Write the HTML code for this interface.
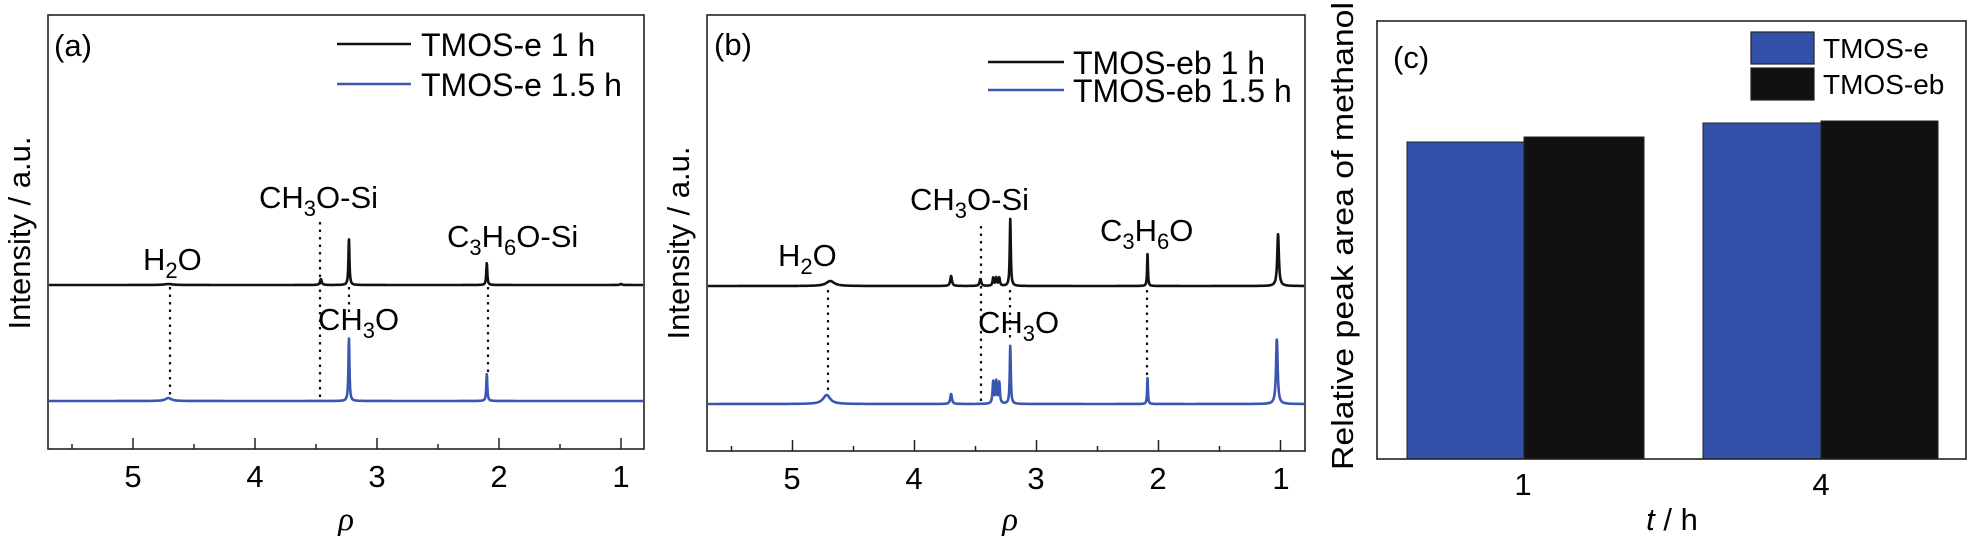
<!DOCTYPE html>
<html><head><meta charset="utf-8"><style>
html,body{margin:0;padding:0;background:#fff;}
svg{display:block;font-family:"Liberation Sans",sans-serif;}
</style></head><body>
<svg id="s" width="1971" height="536" viewBox="0 0 1971 536" xmlns="http://www.w3.org/2000/svg">
<rect width="1971" height="536" fill="#fff"/>
<g id="dyn"></g>
<!-- Panel a -->
<rect x="48" y="15" width="596" height="434" fill="none" stroke="#222" stroke-width="1.6"/>
<text x="54" y="56" font-size="31">(a)</text>
<line x1="337" y1="44" x2="411" y2="44" stroke="#111" stroke-width="2.5"/>
<text x="421" y="56" font-size="32">TMOS-e 1 h</text>
<line x1="337" y1="84" x2="411" y2="84" stroke="#3a56b0" stroke-width="2.5"/>
<text x="421" y="96" font-size="32">TMOS-e 1.5 h</text>
<text transform="translate(30,233) rotate(-90)" text-anchor="middle" font-size="31">Intensity / a.u.</text>
<text x="143" y="270" font-size="31">H<tspan font-size="22" dy="8">2</tspan><tspan dy="-8">O</tspan></text>
<text x="259" y="208" font-size="31">CH<tspan font-size="22" dy="8">3</tspan><tspan dy="-8">O-Si</tspan></text>
<text x="447" y="247" font-size="31">C<tspan font-size="22" dy="8">3</tspan><tspan dy="-8">H</tspan><tspan font-size="22" dy="8">6</tspan><tspan dy="-8">O-Si</tspan></text>
<text x="318" y="330" font-size="31">CH<tspan font-size="22" dy="8">3</tspan><tspan dy="-8">O</tspan></text>
<g font-size="31" text-anchor="middle">
<text x="133" y="487">5</text><text x="255" y="487">4</text><text x="377" y="487">3</text><text x="499" y="487">2</text><text x="621" y="487">1</text>
</g>
<text x="346" y="530" font-size="33" font-style="italic" font-family="Liberation Serif,serif" text-anchor="middle">ρ</text>
<!-- Panel b -->
<rect x="707" y="15" width="598" height="436" fill="none" stroke="#222" stroke-width="1.6"/>
<text x="714" y="55" font-size="31">(b)</text>
<line x1="988" y1="62" x2="1064" y2="62" stroke="#111" stroke-width="2.5"/>
<text x="1073" y="74" font-size="32">TMOS-eb 1 h</text>
<line x1="988" y1="90" x2="1064" y2="90" stroke="#3a56b0" stroke-width="2.5"/>
<text x="1073" y="102" font-size="32">TMOS-eb 1.5 h</text>
<text transform="translate(689,243) rotate(-90)" text-anchor="middle" font-size="31">Intensity / a.u.</text>
<text x="778" y="266" font-size="31">H<tspan font-size="22" dy="8">2</tspan><tspan dy="-8">O</tspan></text>
<text x="910" y="210" font-size="31">CH<tspan font-size="22" dy="8">3</tspan><tspan dy="-8">O-Si</tspan></text>
<text x="1100" y="241" font-size="31">C<tspan font-size="22" dy="8">3</tspan><tspan dy="-8">H</tspan><tspan font-size="22" dy="8">6</tspan><tspan dy="-8">O</tspan></text>
<text x="978" y="333" font-size="31">CH<tspan font-size="22" dy="8">3</tspan><tspan dy="-8">O</tspan></text>
<g font-size="31" text-anchor="middle">
<text x="792" y="489">5</text><text x="914" y="489">4</text><text x="1036" y="489">3</text><text x="1158" y="489">2</text><text x="1281" y="489">1</text>
</g>
<text x="1010" y="530" font-size="33" font-style="italic" font-family="Liberation Serif,serif" text-anchor="middle">ρ</text>
<!-- Panel c -->
<rect x="1407" y="142" width="117" height="317" fill="#3250a8" stroke="#222" stroke-width="1"/>
<rect x="1524" y="137" width="120" height="322" fill="#111" stroke="#222" stroke-width="1"/>
<rect x="1703" y="123" width="118" height="336" fill="#3250a8" stroke="#222" stroke-width="1"/>
<rect x="1821" y="121" width="117" height="338" fill="#111" stroke="#222" stroke-width="1"/>
<rect x="1377" y="21" width="589" height="438" fill="none" stroke="#222" stroke-width="1.6"/>
<text x="1393" y="68" font-size="31">(c)</text>
<rect x="1751" y="32" width="63" height="32" fill="#3250a8" stroke="#222" stroke-width="1.2"/>
<rect x="1751" y="68" width="63" height="32" fill="#111" stroke="#222" stroke-width="1.2"/>
<text x="1823" y="58" font-size="28">TMOS-e</text>
<text x="1823" y="94" font-size="28">TMOS-eb</text>
<text transform="translate(1353,236) rotate(-90)" text-anchor="middle" font-size="31" textLength="468" lengthAdjust="spacingAndGlyphs">Relative peak area of methanol</text>
<g font-size="31" text-anchor="middle">
<text x="1523" y="495">1</text><text x="1821" y="495">4</text>
</g>
<text x="1672" y="530" font-size="31" text-anchor="middle"><tspan font-style="italic">t</tspan> / h</text>
</svg>
<script>
(function(){
var NS="http://www.w3.org/2000/svg",g=document.getElementById("dyn");
function el(t,a){var e=document.createElementNS(NS,t);for(var k in a)e.setAttribute(k,a[k]);g.appendChild(e);return e;}
function spec(x0,x1,X,base,peaks,col){
  var d="",first=true;
  for(var px=x0;px<=x1;px+=0.25){
    var v=X(px),y=base;
    for(var i=0;i<peaks.length;i++){var p=peaks[i],u=(v-p[0])/p[2];y-=p[1]/(1+u*u);}
    d+=(first?"M":"L")+px.toFixed(2)+" "+y.toFixed(2);first=false;
  }
  el("path",{d:d,fill:"none",stroke:col,"stroke-width":"2.6","stroke-linejoin":"round"});
}
function ticks(x5,bottom,xl,xr){
  for(var v=0.5;v<=6;v+=0.5){var x=x5+(5-v)*122;if(x<xl+2||x>xr-2)continue;
    var L=(Math.abs(v-Math.round(v))<0.01)?11:5;
    el("line",{x1:x,y1:bottom,x2:x,y2:bottom-L,stroke:"#222","stroke-width":"1.5"});}
}
function dot(x,y1,y2){el("line",{x1:x,y1:y1,x2:x,y2:y2,stroke:"#111","stroke-width":"2.2","stroke-dasharray":"2.5 5"});}
// panel a
var Xa=function(px){return 5-(px-133)/122;};
spec(49,643,Xa,285,[[4.71,1,0.04],[3.46,6,0.008],[3.23,46,0.005],[2.10,22,0.005],[1.0,1,0.01]],"#111");
spec(49,643,Xa,401,[[4.71,3,0.03],[3.23,63,0.005],[2.10,27,0.005]],"#3a56b0");
ticks(133,449,48,644);
dot(170,287,398);dot(320,222,398);dot(349,287,314);dot(488,287,372);
// panel b
var Xb=function(px){return 5-(px-792.5)/122;};
var bp=function(s){return [[4.69,5*s,0.04],[3.70,10,0.008],[3.46,7,0.008],[3.355,8*s,0.006],[3.33,8*s,0.006],[3.305,8*s,0.006]];};
var pb1=bp(1).concat([[3.215,67,0.005],[2.09,32,0.004],[1.02,52,0.008]]);
var pb2=[[4.72,9,0.035],[3.70,10,0.008],[3.355,22,0.006],[3.33,22,0.006],[3.305,21,0.006],[3.215,58,0.005],[2.09,26,0.004],[1.03,65,0.008]];
spec(708,1304,Xb,286,pb1,"#111");
spec(708,1304,Xb,404,pb2,"#3a56b0");
ticks(792.5,451,707,1305);
dot(828,290,392);dot(981,226,402);dot(1010,290,340);dot(1147,290,376);
})();
</script>
</body></html>
